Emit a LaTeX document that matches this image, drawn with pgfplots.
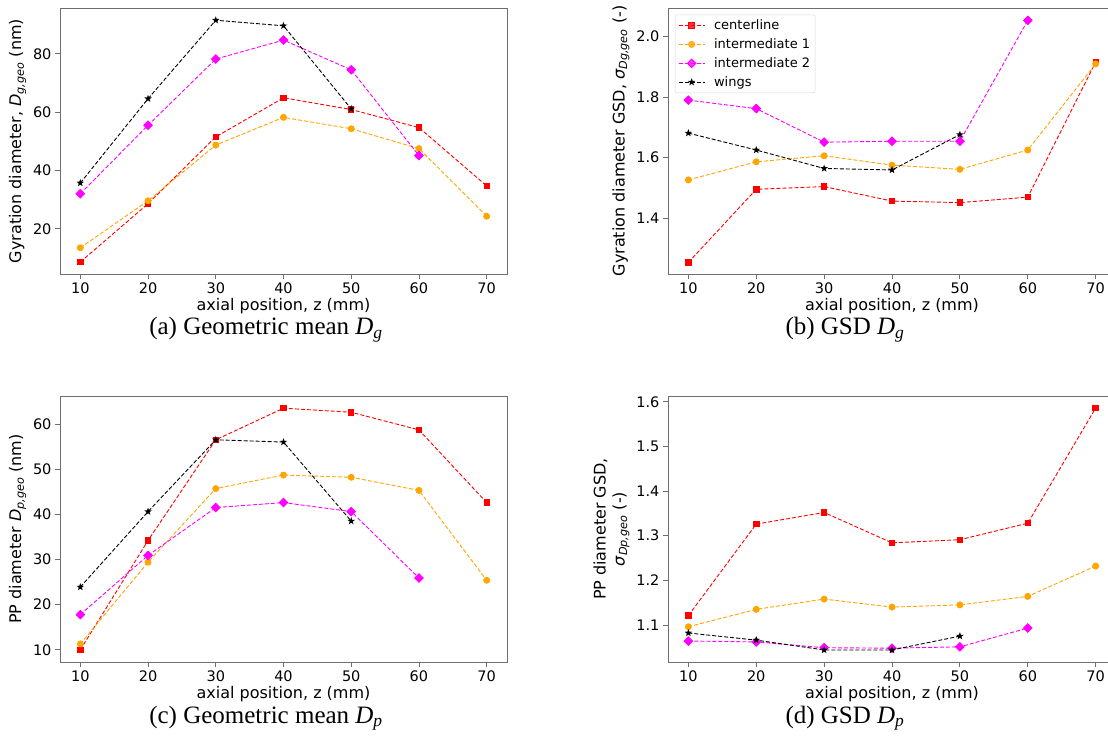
\documentclass[border=0pt]{standalone}
\usepackage{fontspec}
\setmainfont{Liberation Serif}
\newfontfamily\djv{DejaVu Sans}
\usepackage{pgfplots}
\pgfplotsset{compat=1.18}
\usetikzlibrary{plotmarks}
\definecolor{mplorange}{RGB}{255,165,0}
\definecolor{mplmagenta}{RGB}{255,0,255}
\definecolor{framegray}{RGB}{110,110,110}

\pgfdeclareplotmark{fstar}{%
 \pgfpathmoveto{\pgfpointpolar{90}{\pgfplotmarksize}}%
 \pgfpathlineto{\pgfpointpolar{126}{0.4\pgfplotmarksize}}%
 \pgfpathlineto{\pgfpointpolar{162}{\pgfplotmarksize}}%
 \pgfpathlineto{\pgfpointpolar{198}{0.4\pgfplotmarksize}}%
 \pgfpathlineto{\pgfpointpolar{234}{\pgfplotmarksize}}%
 \pgfpathlineto{\pgfpointpolar{270}{0.4\pgfplotmarksize}}%
 \pgfpathlineto{\pgfpointpolar{306}{\pgfplotmarksize}}%
 \pgfpathlineto{\pgfpointpolar{342}{0.4\pgfplotmarksize}}%
 \pgfpathlineto{\pgfpointpolar{18}{\pgfplotmarksize}}%
 \pgfpathlineto{\pgfpointpolar{54}{0.4\pgfplotmarksize}}%
 \pgfpathclose\pgfusepathqfillstroke}

\tikzset{capt/.style={font=\fontsize{25}{28}\selectfont, anchor=base}}

\pgfplotsset{
 mystyle/.style={
  scale only axis, width=447pt, height=266pt,
  xmin=7, xmax=73, xtick={10,20,...,70},
  tick align=outside, xtick pos=bottom, ytick pos=left,
  major tick length=5pt,
  axis line style={framegray, line width=0.8pt},
  tick style={framegray, line width=0.8pt},
  ticklabel style={font=\djv\fontsize{14.5}{17}\selectfont},
  /pgf/number format/assume math mode=true,
  label style={font=\djv\fontsize{16}{19}\selectfont},
  xlabel={axial position, z (mm)},
  xlabel style={yshift=2pt},
  every axis plot/.append style={line width=0.9pt, dash pattern=on 4pt off 2pt},
 },
 cl/.style={red, mark=square*, mark size=2.7pt, mark options={solid}},
 ia/.style={mplorange, mark=*, mark size=3pt, mark options={solid}},
 ib/.style={mplmagenta, mark=square*, mark size=3pt, mark options={solid, rotate=45}},
 wg/.style={black, mark=fstar, mark size=2.6pt, mark options={solid}},
}

\begin{document}
\begin{tikzpicture}[x=1pt,y=1pt]
\useasboundingbox (0,0) rectangle (1108,740);

% (a)
\begin{axis}[mystyle, at={(60pt,466pt)}, anchor=south west,
  ymin=4.5, ymax=95.7, ytick={20,40,60,80},
  ylabel={Gyration diameter, {\itshape D}\textsubscript{\itshape g,geo} (nm)}]
\addplot[cl] coordinates {(10,8.6)(20,28.6)(30,51.5)(40,64.9)(50,60.9)(60,54.7)(70,34.7)};
\addplot[ia] coordinates {(10,13.5)(20,29.6)(30,48.7)(40,58.2)(50,54.3)(60,47.5)(70,24.3)};
\addplot[ib] coordinates {(10,32.0)(20,55.5)(30,78.2)(40,84.7)(50,74.5)(60,45.1)};
\addplot[wg] coordinates {(10,35.7)(20,64.6)(30,91.5)(40,89.6)(50,61.1)};
\end{axis}
\node[capt] at (266,405) {(a) Geometric mean \textit{D}\textsubscript{\textit{g}}};

% (b)
\begin{axis}[mystyle, at={(668pt,466pt)}, anchor=south west, width=448pt,
  ymin=1.2147, ymax=2.095, ytick={1.4,1.6,1.8,2.0},
  yticklabel style={/pgf/number format/fixed, /pgf/number format/fixed zerofill, /pgf/number format/precision=1},
  ylabel={Gyration diameter GSD, {\itshape σ}\textsubscript{\itshape Dg,geo} (-)},
  legend cell align=left,
  legend image code/.code={\draw[mark repeat=2,mark phase=2] plot coordinates {(0pt,0pt)(13pt,0pt)(26pt,0pt)};},
  legend style={at={(0.0156,0.975)}, anchor=north west, draw=black!15, rounded corners=2pt,
    fill=white, fill opacity=0.8, text opacity=1, font=\djv\fontsize{13}{15}\selectfont,
    row sep=3.5pt, inner xsep=3pt, inner ysep=3pt,
    /tikz/every odd column/.append style={column sep=7pt}}]
\addplot[cl] coordinates {(10,1.253)(20,1.495)(30,1.504)(40,1.456)(50,1.451)(60,1.469)(70,1.916)};
\addplot[ia] coordinates {(10,1.526)(20,1.586)(30,1.606)(40,1.575)(50,1.561)(60,1.625)(70,1.910)};
\addplot[ib] coordinates {(10,1.790)(20,1.762)(30,1.651)(40,1.654)(50,1.654)(60,2.054)};
\addplot[wg] coordinates {(10,1.681)(20,1.625)(30,1.564)(40,1.559)(50,1.676)};
\legend{centerline, intermediate 1, intermediate 2, wings}
\end{axis}
\node[capt] at (845,405) {(b) GSD \textit{D}\textsubscript{\textit{g}}};

% (c)
\begin{axis}[mystyle, at={(60pt,78pt)}, anchor=south west,
  ymin=7.3, ymax=66.2, ytick={10,20,...,60},
  ylabel={PP diameter {\itshape D}\textsubscript{\itshape p,geo} (nm)}]
\addplot[cl] coordinates {(10,10.0)(20,34.2)(30,56.5)(40,63.5)(50,62.6)(60,58.7)(70,42.6)};
\addplot[ia] coordinates {(10,11.3)(20,29.4)(30,45.7)(40,48.7)(50,48.2)(60,45.3)(70,25.4)};
\addplot[ib] coordinates {(10,17.8)(20,30.9)(30,41.5)(40,42.6)(50,40.6)(60,25.9)};
\addplot[wg] coordinates {(10,23.9)(20,40.6)(30,56.5)(40,56.0)(50,38.5)};
\end{axis}
\node[capt] at (266,17) {(c) Geometric mean \textit{D}\textsubscript{\textit{p}}};

% (d)
\begin{axis}[mystyle, at={(668pt,78pt)}, anchor=south west, width=448pt,
  ymin=1.017, ymax=1.613, ytick={1.1,1.2,...,1.6},
  yticklabel style={/pgf/number format/fixed, /pgf/number format/fixed zerofill, /pgf/number format/precision=1},
  ylabel style={align=center},
  ylabel={PP diameter GSD,\\{\itshape σ}\textsubscript{\itshape Dp,geo} (-)}]
\addplot[cl] coordinates {(10,1.121)(20,1.326)(30,1.352)(40,1.284)(50,1.291)(60,1.328)(70,1.586)};
\addplot[ia] coordinates {(10,1.096)(20,1.135)(30,1.158)(40,1.140)(50,1.145)(60,1.164)(70,1.232)};
\addplot[ib] coordinates {(10,1.064)(20,1.062)(30,1.049)(40,1.048)(50,1.051)(60,1.093)};
\addplot[wg] coordinates {(10,1.082)(20,1.066)(30,1.044)(40,1.044)(50,1.075)};
\end{axis}
\node[capt] at (845,17) {(d) GSD \textit{D}\textsubscript{\textit{p}}};
\end{tikzpicture}
\end{document}
